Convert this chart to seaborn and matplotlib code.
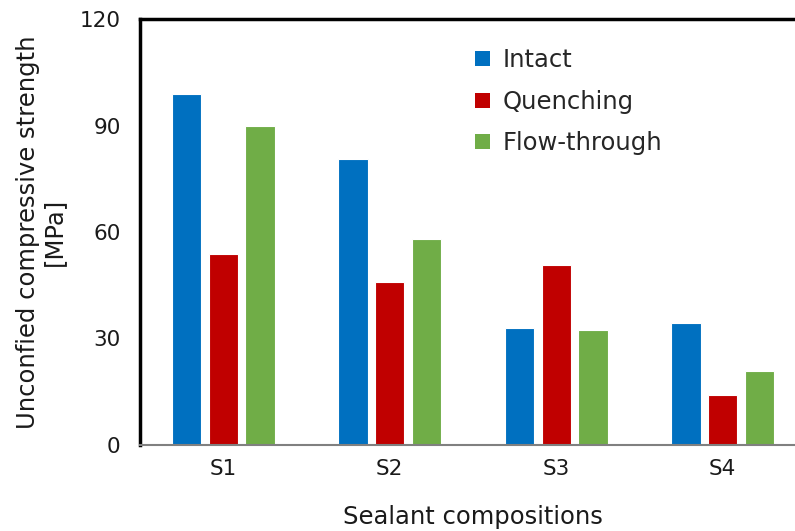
import pandas as pd
import seaborn as sns
import matplotlib.pyplot as plt
from matplotlib.patches import Patch

# data
compositions = ['S1', 'S2', 'S3', 'S4']
intact = [99.0, 80.6, 33.0, 34.4]
quenching = [53.8, 45.9, 50.7, 14.1]
flow_through = [89.9, 58.0, 32.4, 20.8]
series = ['Intact', 'Quenching', 'Flow-through']

df = pd.DataFrame({
    'comp': compositions * 3,
    'ucs': intact + quenching + flow_through,
    'case': [s for s in series for _ in compositions],
})

colors = ['#0070C0', '#C00000', '#70AD47']

sns.set_style('white')
plt.rcParams['font.family'] = ['DejaVu Sans']

fig = plt.figure(figsize=(7.95, 5.31), dpi=100)
# axes runs a little past the right edge, like the original
ax = fig.add_axes([140 / 795, 86 / 531, 666 / 795, 426 / 531])

sns.barplot(data=df, x='comp', y='ucs', hue='case', palette=colors,
            width=0.66, gap=0.2, saturation=1, edgecolor='white',
            linewidth=0.8, legend=False, ax=ax)

ax.set_xlim(-0.5, 3.5)
ax.set_ylim(0, 120)
ax.set_yticks([0, 30, 60, 90, 120])
ax.tick_params(axis='both', length=0, labelsize=15.5, labelcolor='#1a1a1a')
ax.tick_params(axis='y', pad=14)
ax.tick_params(axis='x', pad=10)

for side in ['top', 'left']:
    ax.spines[side].set_linewidth(2.5)
    ax.spines[side].set_color('black')
ax.spines['bottom'].set_linewidth(1.5)
ax.spines['bottom'].set_color('#808080')
ax.spines['right'].set_visible(False)

ax.set_xlabel('Sealant compositions', fontsize=17.5, color='#1a1a1a', labelpad=19)
ax.set_ylabel('Unconfied compressive strength\n[MPa]', fontsize=17.5,
              color='#1a1a1a', labelpad=10, linespacing=1.1)

handles = [Patch(facecolor=c, edgecolor='none') for c in colors]
ax.legend(handles, series, loc='upper left', bbox_to_anchor=(0.489, 0.954),
          frameon=False, fontsize=17.5, handlelength=0.6, handleheight=0.6,
          handletextpad=0.5, labelspacing=0.72, borderaxespad=0)

fig.savefig('out.png', dpi=100)
